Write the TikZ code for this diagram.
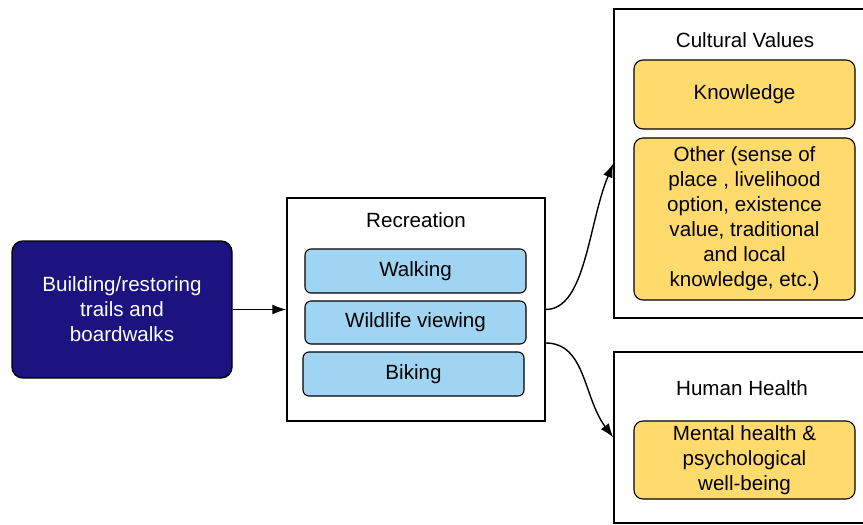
\documentclass[tikz,border=0pt]{standalone}
\usepackage{fontspec}
\setmainfont{Liberation Sans}
\usetikzlibrary{arrows.meta}
\definecolor{navyc}{HTML}{1B1380}
\definecolor{bluec}{HTML}{9FD4F2}
\definecolor{yellowc}{HTML}{FFDB6E}
\tikzset{
  every node/.style={font=\fontsize{20.6}{25}\selectfont, inner sep=0pt, align=center},
  frame/.style={draw=black, line width=1.4pt, fill=white},
  srcbox/.style={draw=black, line width=1.4pt, rounded corners=11pt, fill=navyc, text=white},
  actbox/.style={draw=black, line width=1.1pt, rounded corners=6pt, fill=bluec, minimum width=221pt},
  valbox/.style={draw=black, line width=1.1pt, rounded corners=9pt, fill=yellowc, minimum width=221pt},
  conn/.style={draw=black, line width=1.4pt, -{Latex[length=14pt,width=10pt]}}
}
\begin{document}
\begin{tikzpicture}[x=1pt,y=-1pt]
\useasboundingbox (0,0) rectangle (863,525);
\clip (0,0) rectangle (863,525);
% source
\node[srcbox, minimum width=220pt, minimum height=137pt] (src) at (122,309.5) {Building/restoring\\trails and\\boardwalks};
% recreation
\node[frame, minimum width=258pt, minimum height=223pt] (rec) at (416,309.5) {};
\node (rectitle) at (416,220) {Recreation};
\node[actbox, minimum height=44pt] (walk) at (415.5,271) {Walking};
\node[actbox, minimum height=43pt] (wild) at (415.5,322.5) {Wildlife viewing};
\node[actbox, minimum height=44pt] (bike) at (413.5,374) {Biking};
% cultural values
\node[frame, minimum width=256pt, minimum height=309pt] (cult) at (742,163.5) {};
\node (culttitle) at (745,40) {Cultural Values};
\node[valbox, minimum height=69pt] (know) at (744.5,94.5) {Knowledge};
\node[valbox, minimum height=162pt] (other) at (744.5,219) {Other (sense of\\place , livelihood\\option, existence\\value, traditional\\and local\\knowledge, etc.)};
% human health
\node[frame, minimum width=256pt, minimum height=171pt] (hh) at (742,437.5) {};
\node (hhtitle) at (742,388) {Human Health};
\node[valbox, minimum height=78pt] (mental) at (744.5,460) {Mental health \&\\psychological\\well-being};
% connectors
\draw[conn] (src.east) -- (rec.west);
\draw[conn] (rec.east) .. controls +(40,0) and +(-25,60) .. (cult.west);
\draw[conn] ([yshift=-33.5pt]rec.east) .. controls +(40,0) and +(-30,-40) .. (hh.west);
\end{tikzpicture}
\end{document}
